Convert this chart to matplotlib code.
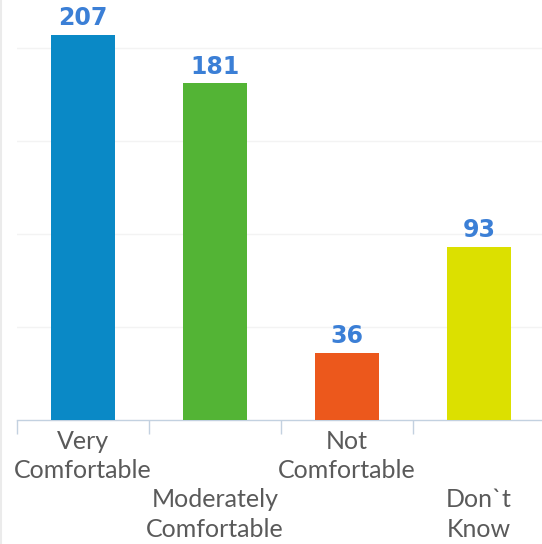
import matplotlib
matplotlib.use("Agg")
import matplotlib.pyplot as plt
from matplotlib.lines import Line2D

categories = ["Very\nComfortable", "\n\nModerately\nComfortable",
              "Not\nComfortable", "\n\nDon`t\nKnow"]
values = [207, 181, 36, 93]
colors = ["#0A89C6", "#53B435", "#EC581C", "#DCE000"]
grid_vals = [50, 100, 150, 200]

fig = plt.figure(figsize=(5.42, 5.44), dpi=100)
ax = fig.add_axes([17/542, 124/544, 525/542, 420/544])

x = range(len(values))
bars = ax.bar(x, values, width=0.48, color=colors, zorder=3)

for b, v in zip(bars, values):
    ax.text(b.get_x() + b.get_width()/2, v + 2.5, str(v), ha="center", va="bottom",
            fontsize=17, fontweight="bold", color="#3B7FD6", family="DejaVu Sans")

ax.set_xlim(-0.5, 3.477)
ax.set_ylim(0, 225.8)

ax.set_yticks(grid_vals)
ax.set_yticklabels([])
ax.tick_params(axis="y", length=0)
ax.yaxis.grid(True, color="#F3F3F3", linewidth=1, zorder=0)

ax.set_xticks(list(x))
ax.set_xticklabels(categories, fontsize=18, color="#5A5A5A", family="Lato",
                   linespacing=1.33)
ax.tick_params(axis="x", which="major", length=0, pad=7)
ax.set_xticks([-0.5, 0.5, 1.5, 2.5], minor=True)
ax.tick_params(axis="x", which="minor", length=10, width=1, color="#C3D1E0",
               direction="out")

for s in ["left", "top", "right"]:
    ax.spines[s].set_visible(False)
ax.spines["bottom"].set_color("#C3D1E0")
ax.spines["bottom"].set_linewidth(1)

fig.add_artist(Line2D([0.002, 0.002], [0, 1], color="#EBEBEB", linewidth=1.5))

fig.savefig("out.png", dpi=100)
